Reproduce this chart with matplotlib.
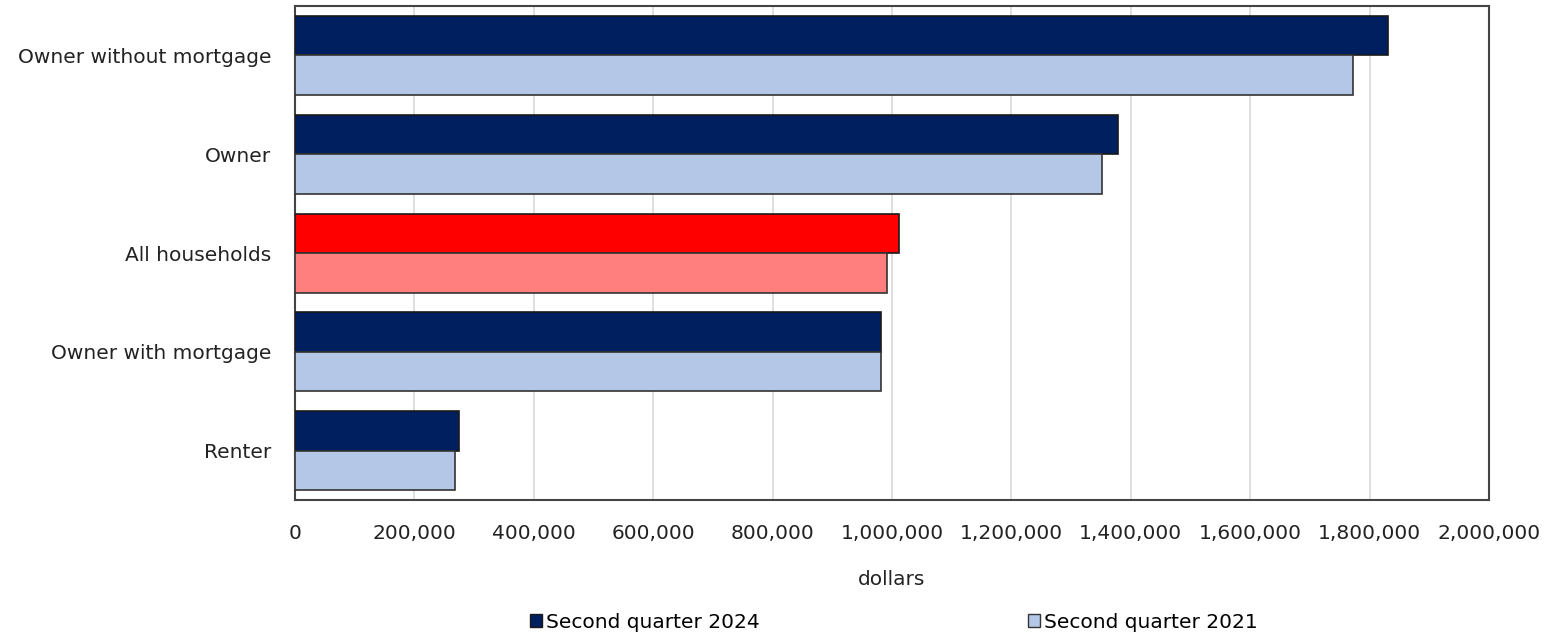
import numpy as np
import matplotlib.pyplot as plt
from matplotlib.patches import Patch
from matplotlib.ticker import FuncFormatter

categories = ["Owner without mortgage", "Owner", "All households",
              "Owner with mortgage", "Renter"]
q2_2024 = [1831000, 1379000, 1012000, 982000, 275000]
q2_2021 = [1772000, 1352000, 992000, 982000, 268000]

dark = "#001f5f"
light = "#b4c7e7"
red = "#ff0000"
pink = "#ff7f7f"

colors_2024 = [red if c == "All households" else dark for c in categories]
colors_2021 = [pink if c == "All households" else light for c in categories]

fs = 14.5

fig = plt.figure(figsize=(15.47, 6.33), dpi=100)
ax = fig.add_axes([0.1907, 0.21, 0.7718, 0.7805])

y = np.arange(len(categories))
h = 0.4
ax.barh(y - h / 2, q2_2024, height=h, color=colors_2024, edgecolor="#1a1a1a", linewidth=1.2, zorder=3)
ax.barh(y + h / 2, q2_2021, height=h, color=colors_2021, edgecolor="#333333", linewidth=1.2, zorder=3)

ax.set_ylim(len(categories) - 0.5, -0.5)
ax.set_xlim(0, 2000000)
ax.set_xticks(np.arange(0, 2000001, 200000))
ax.xaxis.set_major_formatter(FuncFormatter(lambda v, p: f"{int(v):,}"))
ax.set_yticks(y)
ax.set_yticklabels(categories)
ax.tick_params(axis="both", length=0, labelsize=fs, colors="#222222")
ax.tick_params(axis="x", pad=17)
ax.tick_params(axis="y", pad=17)
ax.grid(axis="x", color="#d9d9d9", linewidth=1.2, zorder=0)
for s in ax.spines.values():
    s.set_color("#444444")
    s.set_linewidth(1.5)

ax.set_xlabel("dollars", fontsize=fs, color="#222222", labelpad=20)

handles = [Patch(facecolor=dark, edgecolor="#1a1a1a"),
           Patch(facecolor=light, edgecolor="#333333")]
fig.legend(handles, ["Second quarter 2024", "Second quarter 2021"],
           loc="lower left", bbox_to_anchor=(0.331, -0.027), ncol=2, frameon=False,
           fontsize=fs, handlelength=0.6, handleheight=0.6, handletextpad=0.2,
           columnspacing=13.3)

fig.savefig("out.png", dpi=100)
